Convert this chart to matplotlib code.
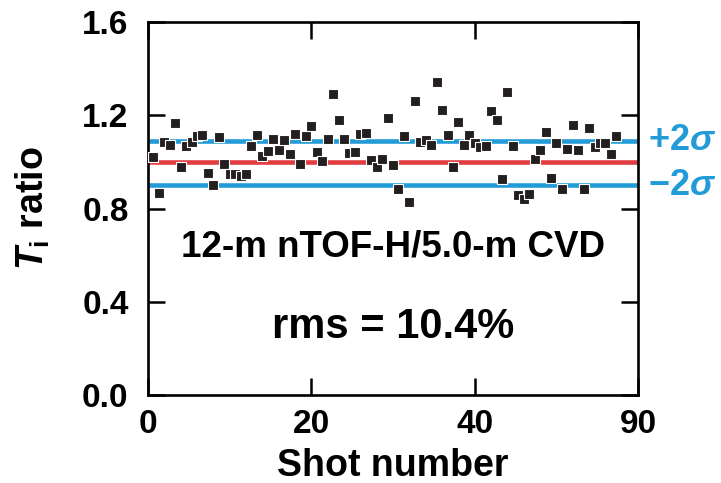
import numpy as np
import matplotlib
matplotlib.use("Agg")
import matplotlib.pyplot as plt
import matplotlib.transforms as mtransforms

# shot number vs Ti ratio
shots = list(range(1, 87))
ratio = [1.021, 0.865, 1.086, 1.073, 1.166, 0.977, 1.069, 1.087, 1.111, 1.114,
         0.954, 0.900, 1.107, 0.993, 0.950, 0.947, 0.938, 0.950, 1.067, 1.116,
         1.024, 1.047, 1.097, 1.053, 1.096, 1.036, 1.121, 0.990, 1.110, 1.154,
         1.043, 1.002, 1.097, 1.293, 1.180, 1.097, 1.040, 1.044, 1.121, 1.123,
         1.007, 0.980, 1.014, 1.190, 0.986, 0.883, 1.110, 0.830, 1.261, 1.086,
         1.094, 1.073, 1.344, 1.221, 1.116, 0.980, 1.173, 1.072, 1.116, 1.083,
         1.062, 1.070, 1.219, 1.179, 0.926, 1.301, 1.069, 0.859, 0.840, 0.862,
         1.012, 1.052, 1.129, 0.932, 1.079, 0.883, 1.057, 1.157, 1.050, 0.883,
         1.144, 1.062, 1.079, 1.081, 1.033, 1.109]

mean_level = 1.0
upper_level = 1.09
lower_level = 0.90

xtick_pos = [0, 30, 60, 90]
xtick_lab = ["0", "20", "40", "90"]
ytick_pos = [0.0, 0.4, 0.8, 1.2, 1.6]

blue = "#229bd7"
red = "#e13c40"

plt.rcParams["font.family"] = ["Liberation Sans", "DejaVu Sans"]
plt.rcParams["font.weight"] = "bold"
plt.rcParams["mathtext.fontset"] = "custom"
plt.rcParams["mathtext.rm"] = "Liberation Sans:bold"
plt.rcParams["mathtext.bf"] = "Liberation Sans:bold"
plt.rcParams["mathtext.it"] = "Liberation Sans:bold:italic"

fig = plt.figure(figsize=(7.21, 4.83), dpi=100)
ax = fig.add_axes([0.2053, 0.182, 0.6797, 0.7725])

ax.plot([0, 90], [upper_level, upper_level], color=blue, lw=3.3, zorder=1)
ax.plot([0, 90], [lower_level, lower_level], color=blue, lw=3.3, zorder=1)
ax.plot([0, 90], [mean_level, mean_level], color=red, lw=3.3, zorder=1)
ax.plot(shots, ratio, "s", color="#231f20", ms=6.8, mec="white", mew=0.8,
        zorder=3)

ax.set_xlim(0, 90)
ax.set_ylim(0, 1.6)
ax.set_xticks(xtick_pos)
ax.set_xticklabels(xtick_lab)
ax.set_yticks(ytick_pos)
ax.set_yticklabels(["%.1f" % v for v in ytick_pos])
ax.tick_params(direction="in", length=12, width=1.8, labelsize=24,
               top=True, right=True)
ax.tick_params(axis="y", pad=14)
ax.tick_params(axis="x", pad=10)
for s in ax.spines.values():
    s.set_linewidth(1.9)

ax.set_xlabel("Shot number", fontsize=27, fontweight="bold", labelpad=6)
ax.set_ylabel(r"$T_\mathrm{i}$ ratio", fontsize=27, fontweight="bold",
              labelpad=22)

ax.text(45, 0.635, "12-m nTOF-H/5.0-m CVD", ha="center", va="center",
        fontsize=26.5, fontweight="bold")
ax.text(45, 0.29, "rms = 10.4%", ha="center", va="center",
        fontsize=30, fontweight="bold")

trans = mtransforms.blended_transform_factory(ax.transAxes, ax.transData)
ax.text(1.02, upper_level, r"+2$\sigma$", transform=trans, ha="left",
        va="center", fontsize=26, color=blue, fontweight="bold")
ax.text(1.02, lower_level, "\u22122$\\sigma$", transform=trans, ha="left",
        va="center", fontsize=26, color=blue, fontweight="bold")

fig.savefig("out.png", dpi=100)
